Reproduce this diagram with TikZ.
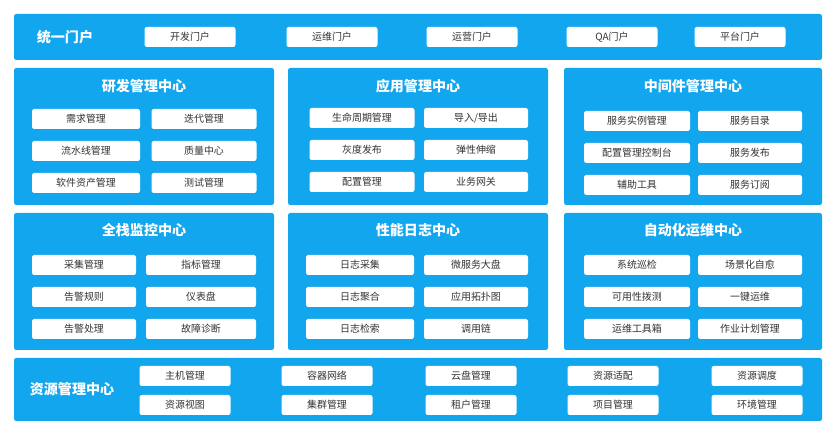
\documentclass[tikz,border=0pt]{standalone}
\usepackage{fontspec}
\setmainfont{Noto Sans CJK SC}
\definecolor{panelblue}{HTML}{12A6EE}
\definecolor{boxtext}{HTML}{333333}
\tikzset{
  panel/.style={fill=panelblue, draw=none, rounded corners=2pt},
  paneltitle/.style={text=white, font=\fontsize{12}{14}\selectfont\bfseries},
  itembox/.style={fill=white, draw=none, rounded corners=2pt, text=boxtext,
    font=\fontsize{8.5}{10}\selectfont, inner sep=0pt},
}
% item box: name, center x, center y, width, text
\newcommand{\itemnode}[5]{\node[itembox, minimum width=#4*0.03cm, minimum height=20*0.03cm] (#1) at (#2,#3) {#5};}
\begin{document}
\begin{tikzpicture}[x=0.03cm,y=-0.03cm]
    \useasboundingbox (0,0) rectangle (830,430);

    % top bar
    \fill[panel] (14,14) rectangle (822,60);
    \node[paneltitle] (portal) at (65,37) {统一门户};
    \itemnode{p1}{190}{37}{91}{开发门户}
    \itemnode{p2}{332}{37}{91}{运维门户}
    \itemnode{p3}{472}{37}{91}{运营门户}
    \itemnode{p4}{612}{37}{91}{QA门户}
    \itemnode{p5}{740}{37}{91}{平台门户}

    % second row
    \fill[panel] (14,68) rectangle (274,205);
    \fill[panel] (288,68) rectangle (548,205);
    \fill[panel] (564,68) rectangle (822,205);
    \node[paneltitle] (dev) at (144,86) {研发管理中心};
    \node[paneltitle] (app) at (418,86) {应用管理中心};
    \node[paneltitle] (mid) at (693,86) {中间件管理中心};

    \itemnode{d1}{86}{119}{108}{需求管理}
    \itemnode{d2}{204}{119}{105}{迭代管理}
    \itemnode{d3}{86}{151}{108}{流水线管理}
    \itemnode{d4}{204}{151}{105}{质量中心}
    \itemnode{d5}{86}{183}{108}{软件资产管理}
    \itemnode{d6}{204}{183}{105}{测试管理}

    \itemnode{a1}{362}{118}{105}{生命周期管理}
    \itemnode{a2}{476}{118}{104}{导入/导出}
    \itemnode{a3}{362}{150}{105}{灰度发布}
    \itemnode{a4}{476}{150}{104}{弹性伸缩}
    \itemnode{a5}{362}{182}{105}{配置管理}
    \itemnode{a6}{476}{182}{104}{业务网关}

    \itemnode{m1}{637}{121}{106}{服务实例管理}
    \itemnode{m2}{750}{121}{104}{服务目录}
    \itemnode{m3}{637}{153}{106}{配置管理控制台}
    \itemnode{m4}{750}{153}{104}{服务发布}
    \itemnode{m5}{637}{185}{106}{辅助工具}
    \itemnode{m6}{750}{185}{104}{服务订阅}

    % third row
    \fill[panel] (14,213) rectangle (274,350);
    \fill[panel] (288,213) rectangle (548,350);
    \fill[panel] (564,213) rectangle (822,350);
    \node[paneltitle] (mon) at (144,230) {全栈监控中心};
    \node[paneltitle] (log) at (418,230) {性能日志中心};
    \node[paneltitle] (ops) at (693,230) {自动化运维中心};

    \itemnode{n1}{84}{265}{104}{采集管理}
    \itemnode{n2}{201}{265}{110}{指标管理}
    \itemnode{n3}{84}{297}{104}{告警规则}
    \itemnode{n4}{201}{297}{110}{仪表盘}
    \itemnode{n5}{84}{329}{104}{告警处理}
    \itemnode{n6}{201}{329}{110}{故障诊断}

    \itemnode{l1}{360}{265}{108}{日志采集}
    \itemnode{l2}{476}{265}{104}{微服务大盘}
    \itemnode{l3}{360}{297}{108}{日志聚合}
    \itemnode{l4}{476}{297}{104}{应用拓扑图}
    \itemnode{l5}{360}{329}{108}{日志检索}
    \itemnode{l6}{476}{329}{104}{调用链}

    \itemnode{o1}{637}{265}{106}{系统巡检}
    \itemnode{o2}{750}{265}{104}{场景化自愈}
    \itemnode{o3}{637}{297}{106}{可用性拨测}
    \itemnode{o4}{750}{297}{104}{一键运维}
    \itemnode{o5}{637}{329}{106}{运维工具箱}
    \itemnode{o6}{750}{329}{104}{作业计划管理}

    % bottom bar
    \fill[panel] (14,358) rectangle (822,421);
    \node[paneltitle] (res) at (72,389) {资源管理中心};
    \itemnode{r1}{185}{376}{91}{主机管理}
    \itemnode{r2}{327}{376}{91}{容器网络}
    \itemnode{r3}{471}{376}{91}{云盘管理}
    \itemnode{r4}{613}{376}{91}{资源适配}
    \itemnode{r5}{757}{376}{91}{资源调度}
    \itemnode{r6}{185}{405}{91}{资源视图}
    \itemnode{r7}{327}{405}{91}{集群管理}
    \itemnode{r8}{471}{405}{91}{租户管理}
    \itemnode{r9}{613}{405}{91}{项目管理}
    \itemnode{r10}{757}{405}{91}{环境管理}
  \end{tikzpicture}
\end{document}
